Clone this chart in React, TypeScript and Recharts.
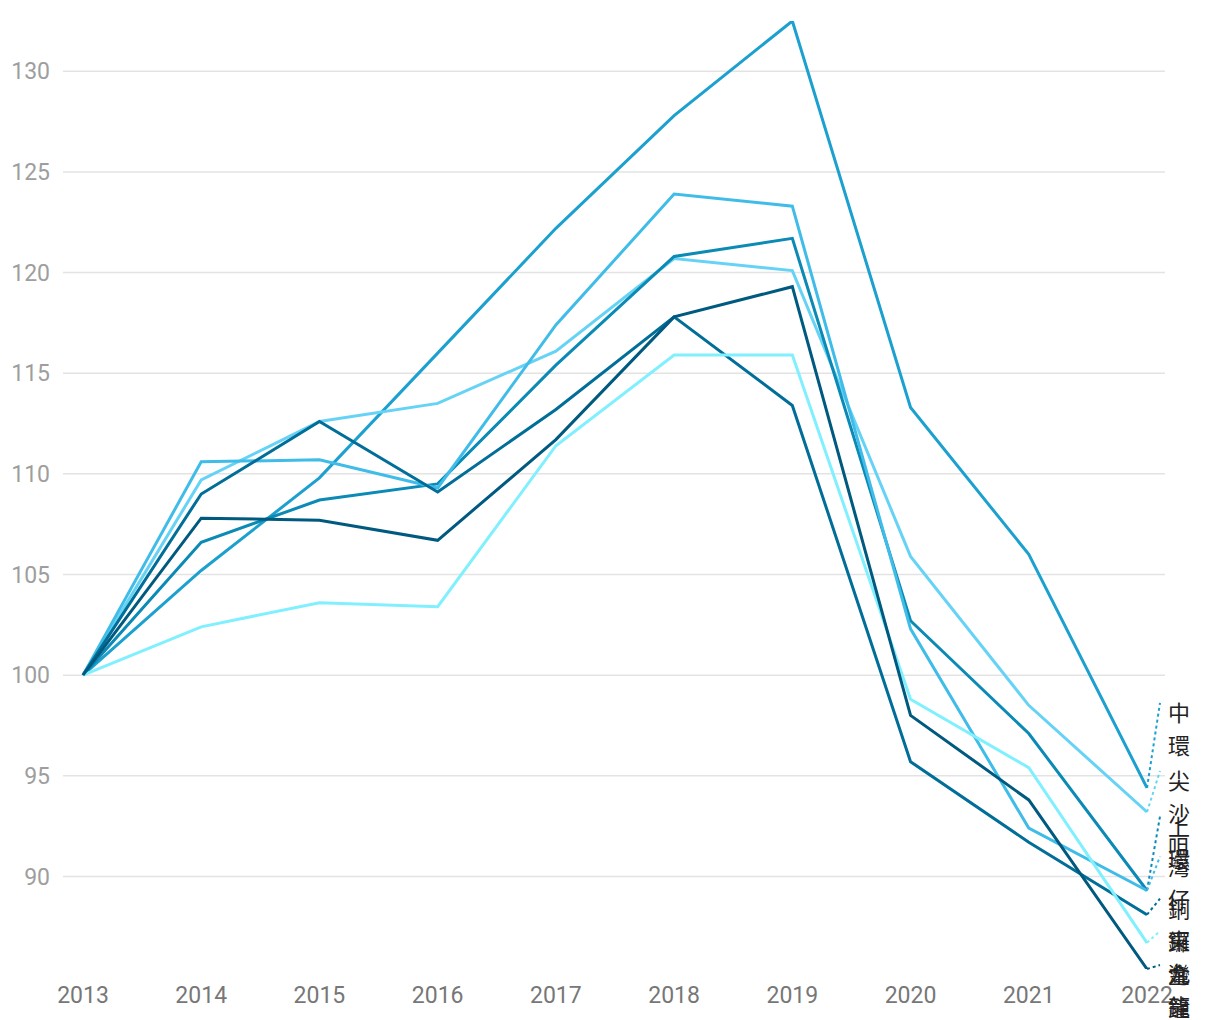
import React from "react";
import { LineChart, Line, XAxis, YAxis, CartesianGrid } from "recharts";

const years = ["2013", "2014", "2015", "2016", "2017", "2018", "2019", "2020", "2021", "2022"];

const centralValues = [100, 105.2, 109.8, 116.0, 122.2, 127.8, 132.5, 113.3, 106.0, 94.4];
const tstValues = [100, 109.7, 112.6, 113.5, 116.1, 120.7, 120.1, 105.9, 98.5, 93.2];
const sheungWanValues = [100, 106.6, 108.7, 109.5, 115.4, 120.8, 121.7, 102.7, 97.1, 89.3];
const wanChaiValues = [100, 110.6, 110.7, 109.3, 117.4, 123.9, 123.3, 102.3, 92.4, 89.3];
const causewayBayValues = [100, 109.0, 112.6, 109.1, 113.2, 117.8, 113.4, 95.7, 91.7, 88.1];
const kowloonEastValues = [100, 102.4, 103.6, 103.4, 111.4, 115.9, 115.9, 98.8, 95.4, 86.7];
const admiraltyValues = [100, 107.8, 107.7, 106.7, 111.7, 117.8, 119.3, 98.0, 93.8, 85.4];

const seriesNames = ["中環", "尖沙咀", "上環", "灣仔", "銅鑼灣", "東九龍", "金鐘"];
const seriesValues = [
  centralValues,
  tstValues,
  sheungWanValues,
  wanChaiValues,
  causewayBayValues,
  kowloonEastValues,
  admiraltyValues,
];
const yTicks = [90, 95, 100, 105, 110, 115, 120, 125, 130];

// styling (kept apart from data)
const seriesColors = ["#1ba0cf", "#66d3f6", "#0a8ab5", "#3fbce8", "#006e98", "#80f0ff", "#00597f"];
const labelShift = [-85, -41, -74, -34, -16, -12, -4];

const chartData = years.map((year, i) => {
  const row: Record<string, string | number> = { year };
  seriesNames.forEach((name, s) => {
    row[name] = seriesValues[s][i];
  });
  return row;
});

const allValues = seriesValues.flat();
const yMin = Math.min(...allValues);
const yMax = Math.max(...allValues);

const makeEndLabel = (s: number) => (props: any) => {
  const { x, y, index } = props;
  if (index !== years.length - 1) return null;
  const color = seriesColors[s];
  const top = y + labelShift[s];
  const chars = Array.from(seriesNames[s]);
  return (
    <g key={`lbl-${s}`}>
      <line
        x1={x}
        y1={y}
        x2={x + 13}
        y2={top}
        stroke={color}
        strokeWidth={2}
        strokeDasharray="3 3"
      />
      <text
        x={x + 21}
        y={top + 18}
        fontSize={22}
        fill="#222"
        fontFamily="'Noto Sans CJK TC', 'Noto Sans CJK SC', sans-serif"
      >
        {chars.map((c, i) => (
          <tspan key={i} x={x + 21} dy={i === 0 ? 0 : 33}>
            {c}
          </tspan>
        ))}
      </text>
    </g>
  );
};

export default function App() {
  return (
    <div style={{ position: "absolute", left: 0, top: 0, width: 1220, height: 1020, background: "#fff" }}>
      <LineChart
        width={1220}
        height={1020}
        data={chartData}
        margin={{ top: 21, right: 55, bottom: 0, left: 0 }}
      >
        <CartesianGrid
          vertical={false}
          horizontalValues={yTicks}
          stroke="#e3e3e3"
          strokeWidth={1.5}
        />
        <XAxis
          dataKey="year"
          height={51}
          axisLine={false}
          tickLine={false}
          tickMargin={12}
          padding={{ left: 20, right: 18 }}
          interval={0}
          tick={{ fill: "#777", fontSize: 23, fontFamily: "Roboto" }}
        />
        <YAxis
          width={63}
          domain={[yMin, yMax]}
          ticks={yTicks}
          allowDataOverflow
          axisLine={false}
          tickLine={false}
          tickMargin={7}
          tick={{ fill: "#9e9e9e", fontSize: 23, fontFamily: "Roboto" }}
        />
        {seriesNames.map((name, s) => (
          <Line
            key={name}
            type="linear"
            dataKey={name}
            stroke={seriesColors[s]}
            strokeWidth={3}
            dot={false}
            activeDot={false}
            isAnimationActive={false}
            label={makeEndLabel(s)}
          />
        ))}
      </LineChart>
    </div>
  );
}
